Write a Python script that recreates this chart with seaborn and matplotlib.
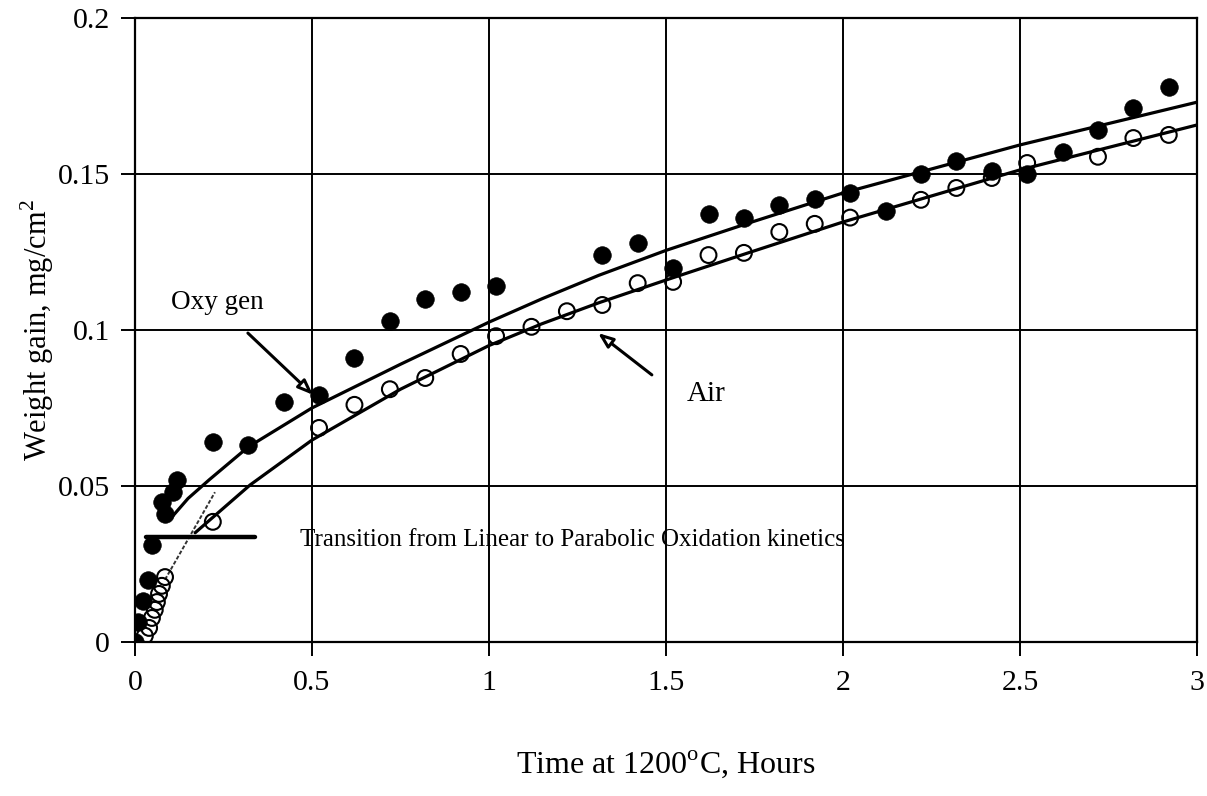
import matplotlib
matplotlib.use("Agg")
import matplotlib.pyplot as plt
import seaborn as sns

# measured points (filled = oxygen, open = air)
oxygen_time = [0.0, 0.008, 0.022, 0.037, 0.048, 0.076, 0.085, 0.107, 0.12, 0.22, 0.32, 0.42,
               0.52, 0.62, 0.72, 0.82, 0.92, 1.02, 1.32, 1.42, 1.52, 1.62, 1.72, 1.82,
               1.92, 2.02, 2.12, 2.22, 2.32, 2.42, 2.52, 2.62, 2.72, 2.82, 2.92]
oxygen_gain = [0.0, 0.0065, 0.013, 0.020, 0.031, 0.045, 0.041, 0.048, 0.052, 0.064, 0.063, 0.077,
               0.079, 0.091, 0.103, 0.110, 0.112, 0.114, 0.124, 0.128, 0.120, 0.137, 0.136, 0.140,
               0.142, 0.144, 0.138, 0.150, 0.154, 0.151, 0.150, 0.157, 0.164, 0.171, 0.178]

air_time = [0.028, 0.04, 0.048, 0.056, 0.062, 0.068, 0.076, 0.085, 0.22, 0.52, 0.62, 0.72,
            0.82, 0.92, 1.02, 1.12, 1.22, 1.32, 1.42, 1.52, 1.62, 1.72, 1.82, 1.92,
            2.02, 2.22, 2.32, 2.42, 2.52, 2.72, 2.82, 2.92]
air_gain = [0.002, 0.0045, 0.0077, 0.0103, 0.0128, 0.0154, 0.018, 0.0208, 0.0385, 0.0686, 0.076, 0.081,
            0.0846, 0.0923, 0.098, 0.101, 0.106, 0.108, 0.115, 0.1154, 0.124, 0.1247, 0.1314, 0.134,
            0.136, 0.1417, 0.1455, 0.1487, 0.1535, 0.1555, 0.1615, 0.1625]

# parabolic fit curves
oxygen_fit_time = [0.104, 0.15, 0.21, 0.32, 0.5, 0.75, 1.0, 1.15, 1.31, 1.5, 1.74, 2.0, 2.5, 3.0]
oxygen_fit_gain = [0.040, 0.046, 0.052, 0.0625, 0.075, 0.089, 0.1025, 0.110, 0.1175, 0.1255, 0.1345,
                   0.1439, 0.1593, 0.173]
air_fit_time = [0.17, 0.325, 0.5, 0.75, 1.0, 1.15, 1.31, 1.5, 1.74, 2.0, 2.5, 3.0]
air_fit_gain = [0.035, 0.0503, 0.0647, 0.081, 0.095, 0.102, 0.1087, 0.116, 0.125, 0.1346, 0.1513, 0.1657]

# linear-stage extension and transition marker
linear_time = [0.085, 0.226]
linear_gain = [0.020, 0.048]
transition_time = [0.03, 0.34]
transition_gain = [0.0335, 0.0335]

x_ticks = [0, 0.5, 1, 1.5, 2, 2.5, 3]
x_tick_labels = ["0", "0.5", "1", "1.5", "2", "2.5", "3"]
y_ticks = [0, 0.05, 0.1, 0.15, 0.2]
y_tick_labels = ["0", "0.05", "0.1", "0.15", "0.2"]

sns.set_style("white")
plt.rcParams["font.family"] = ["Liberation Serif", "DejaVu Serif"]
plt.rcParams["mathtext.fontset"] = "custom"
plt.rcParams["mathtext.rm"] = "Liberation Serif"
plt.rcParams["text.color"] = "black"
plt.rcParams["axes.labelcolor"] = "black"

fig = plt.figure(figsize=(12.07, 7.96), dpi=100)
ax = fig.add_axes([0.1118, 0.1935, 0.88, 0.784])

ax.set_xlim(0, 3)
ax.set_ylim(0, 0.2)
ax.set_xticks(x_ticks)
ax.set_xticklabels(x_tick_labels)
ax.set_yticks(y_ticks)
ax.set_yticklabels(y_tick_labels)
ax.grid(True, color="black", linewidth=1.4)
ax.set_axisbelow(True)
for spine in ax.spines.values():
    spine.set_color("black")
    spine.set_linewidth(1.6)
ax.tick_params(direction="out", length=10, width=1.4, labelsize=21.5, pad=8,
               bottom=True, left=True, colors="black")
ax.tick_params(axis="x", pad=10)

sns.lineplot(x=oxygen_fit_time, y=oxygen_fit_gain, ax=ax, color="black", linewidth=2.3,
             sort=False, estimator=None, zorder=3)
sns.lineplot(x=air_fit_time, y=air_fit_gain, ax=ax, color="black", linewidth=2.3,
             sort=False, estimator=None, zorder=3)
sns.lineplot(x=linear_time, y=linear_gain, ax=ax, color="#333333", linewidth=1.4,
             linestyle=(0, (2, 1)), sort=False, estimator=None, zorder=3)
sns.lineplot(x=transition_time, y=transition_gain, ax=ax, color="black", linewidth=3.2,
             sort=False, estimator=None, zorder=3)

sns.scatterplot(x=air_time, y=air_gain, ax=ax, s=130, marker="o", facecolor="none",
                edgecolor="black", linewidth=1.5, zorder=4)
sns.scatterplot(x=oxygen_time, y=oxygen_gain, ax=ax, s=160, marker="o", color="black",
                edgecolor="black", linewidth=0.5, zorder=5)

ax.text(0.466, 0.0327, "Transition from Linear to Parabolic Oxidation kinetics",
        fontsize=18, ha="left", va="center")
ax.text(0.232, 0.1087, "Oxy gen", fontsize=19.5, ha="center", va="center")
ax.text(1.613, 0.0795, "Air", fontsize=21, ha="center", va="center")

arrow_style = dict(arrowstyle="-|>,head_length=0.9,head_width=0.35", facecolor="white",
                   edgecolor="black", linewidth=2.2, shrinkA=0, shrinkB=0)
ax.annotate("", xy=(0.503, 0.0792), xytext=(0.319, 0.099), arrowprops=arrow_style, zorder=6)
ax.annotate("", xy=(1.308, 0.099), xytext=(1.46, 0.0856), arrowprops=arrow_style, zorder=6)

ax.set_xlabel("Time at 1200$^{\\mathrm{o}}$C, Hours", fontsize=23, labelpad=38)
ax.set_ylabel("Weight gain, mg/cm$^{2}$", fontsize=22, labelpad=1)

fig.savefig("out.png", dpi=100)
